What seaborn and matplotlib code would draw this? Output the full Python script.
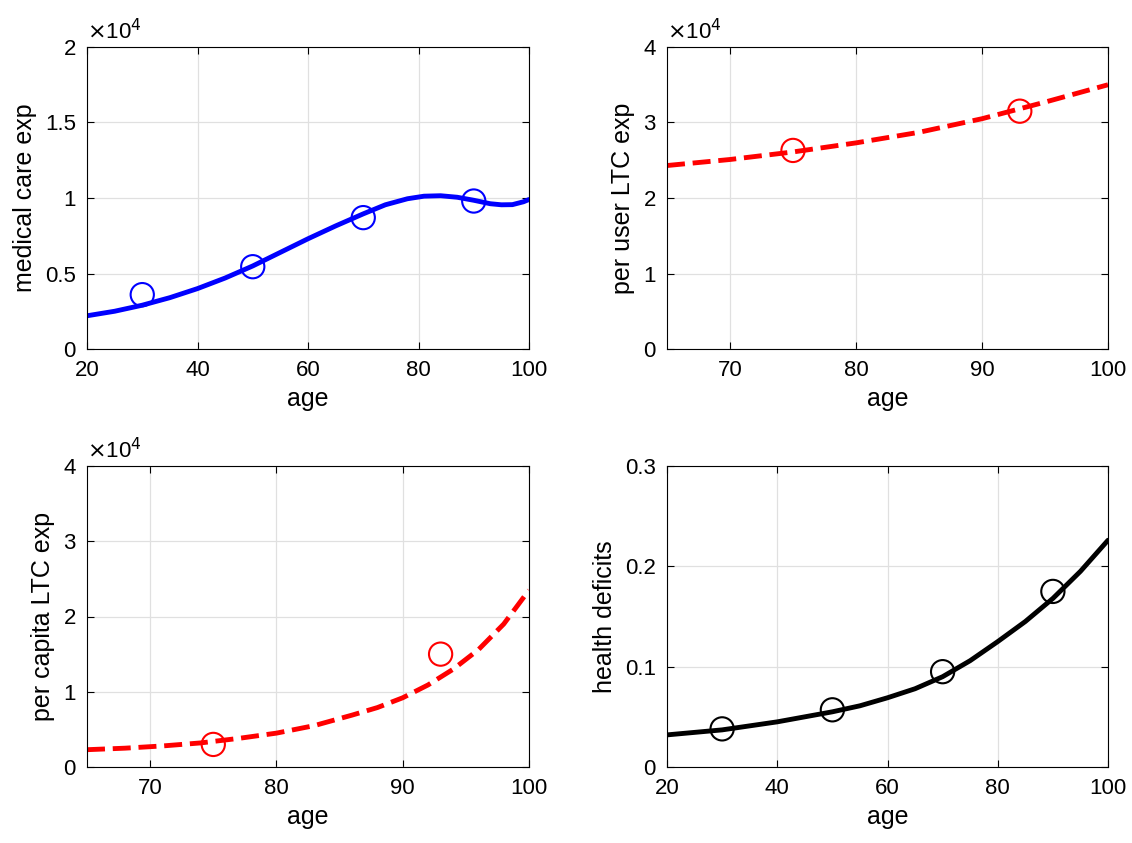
import numpy as np
import pandas as pd
import matplotlib
matplotlib.use("Agg")
import matplotlib.pyplot as plt
import seaborn as sns
from matplotlib.ticker import FuncFormatter

sns.set_style("white")
plt.rcParams['font.family'] = ['Liberation Sans', 'DejaVu Sans']
plt.rcParams['text.color'] = 'black'
plt.rcParams['axes.labelcolor'] = 'black'
plt.rcParams['xtick.color'] = 'black'
plt.rcParams['ytick.color'] = 'black'

# medical care expenditure
med_age = [20, 25, 30, 35, 40, 45, 50, 55, 60, 65, 70, 74, 78, 81, 84, 87, 90, 93, 95, 97, 99, 100]
med_fit = [2200, 2500, 2900, 3400, 4000, 4700, 5500, 6400, 7300, 8150, 8950, 9550, 9950, 10120, 10150, 10050, 9850, 9620, 9550, 9560, 9750, 9900]
med_dat_age = [30, 50, 70, 90]
med_dat = [3600, 5450, 8700, 9800]

# per user LTC expenditure
ltcu_age = [65, 70, 75, 80, 85, 90, 95, 100]
ltcu_fit = [24300, 25100, 26100, 27300, 28700, 30500, 32700, 35000]
ltcu_dat_age = [75, 93]
ltcu_dat = [26300, 31500]

# per capita LTC expenditure
ltcc_age = [65, 68, 71, 74, 77, 80, 83, 86, 88, 90, 92, 94, 96, 98, 100]
ltcc_fit = [2300, 2500, 2800, 3200, 3800, 4500, 5500, 6900, 7900, 9200, 10900, 13000, 15600, 19000, 23500]
ltcc_dat_age = [75, 93]
ltcc_dat = [3000, 15000]

# health deficits
hd_age = [20, 25, 30, 35, 40, 45, 50, 55, 60, 65, 70, 75, 80, 85, 90, 95, 100]
hd_fit = [0.032, 0.0345, 0.037, 0.041, 0.045, 0.050, 0.055, 0.061, 0.069, 0.078, 0.090, 0.106, 0.125, 0.145, 0.168, 0.195, 0.226]
hd_dat_age = [30, 50, 70, 90]
hd_dat = [0.038, 0.057, 0.095, 0.175]

fig = plt.figure(figsize=(11.32, 8.43), dpi=100)
W, H = 1132, 843
def box(x0, x1, y0, y1):
    return [x0 / W, (H - y1) / H, (x1 - x0) / W, (y1 - y0) / H]

panels = [
    (box(87, 529, 47, 349), med_age, med_fit, med_dat_age, med_dat, 'blue', '-', (20, 100), [20, 40, 60, 80, 100], (0, 20000), 5000, True, 'medical care exp'),
    (box(667, 1108, 47, 349), ltcu_age, ltcu_fit, ltcu_dat_age, ltcu_dat, 'red', '--', (65, 100), [70, 80, 90, 100], (0, 40000), 10000, True, 'per user LTC exp'),
    (box(87, 529, 466, 767), ltcc_age, ltcc_fit, ltcc_dat_age, ltcc_dat, 'red', '--', (65, 100), [70, 80, 90, 100], (0, 40000), 10000, True, 'per capita LTC exp'),
    (box(667, 1108, 466, 767), hd_age, hd_fit, hd_dat_age, hd_dat, 'black', '-', (20, 100), [20, 40, 60, 80, 100], (0, 0.3), 0.1, False, 'health deficits'),
]

for pos, xa, ya, xd, yd, col, ls, xl, xt, yl, ystep, sci, ylab in panels:
    ax = fig.add_axes(pos)
    sns.lineplot(x=xa, y=ya, ax=ax, color=col, linestyle=ls, linewidth=3.5)
    sns.scatterplot(x=xd, y=yd, ax=ax, s=280, facecolors='none', edgecolor=col, linewidth=1.5, zorder=5)
    ax.set_xlim(*xl)
    ax.set_ylim(*yl)
    ax.set_xticks(xt)
    ax.set_yticks(np.arange(yl[0], yl[1] + ystep / 2, ystep))
    ax.grid(True, color='#e0e0e0', linewidth=0.9)
    ax.set_axisbelow(True)
    for s in ax.spines.values():
        s.set_color('black')
        s.set_linewidth(0.8)
    ax.tick_params(labelsize=16, direction='in', length=5, pad=8, top=True, right=True, bottom=True, left=True)
    if sci:
        ax.yaxis.set_major_formatter(FuncFormatter(lambda v, p: f"{v/1e4:g}"))
        ax.text(0, 1.01, r"$\times$10$^4$", transform=ax.transAxes, fontsize=16, va='bottom', ha='left')
    else:
        ax.yaxis.set_major_formatter(FuncFormatter(lambda v, p: f"{v:.1f}" if v else "0"))
    ax.set_xlabel('age', fontsize=18, labelpad=4)
    ax.set_ylabel(ylab, fontsize=18, labelpad=6)

fig.savefig('out.png', dpi=100)
